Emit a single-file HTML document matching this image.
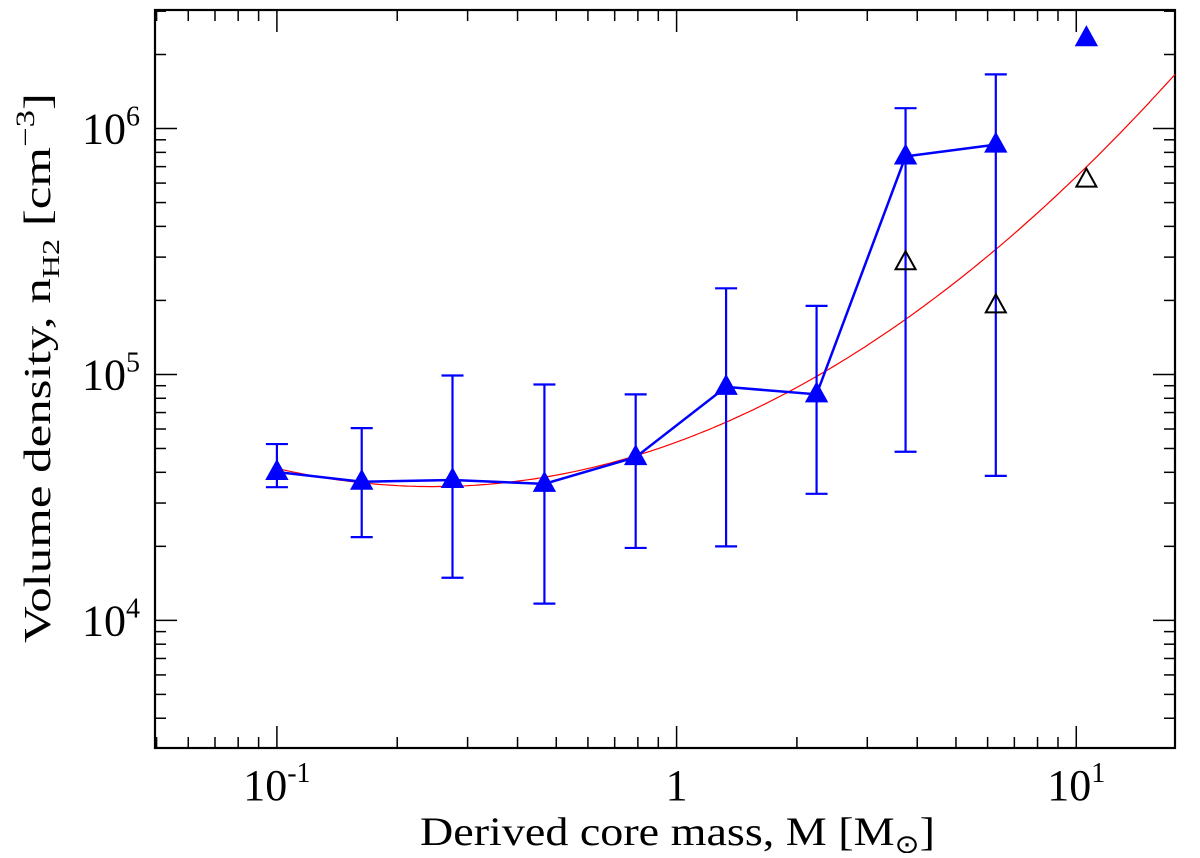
<!DOCTYPE html>
<html><head><meta charset="utf-8"><style>
body{margin:0;background:#fff}
svg text{font-family:"Liberation Serif",serif;fill:#000}
</style></head><body>
<svg id="c" width="1200" height="853" xmlns="http://www.w3.org/2000/svg"></svg>
<script>
const masses=[0.1,0.163,0.275,0.467,0.79,1.33,2.24,3.74,6.29];
const density=[4.01e4,3.66e4,3.72e4,3.59e4,4.61e4,8.9e4,8.3e4,7.7e5,8.6e5];
const errHigh=[5.21e4,6.05e4,9.9e4,9.1e4,8.3e4,2.24e5,1.9e5,1.21e6,1.66e6];
const errLow=[3.48e4,2.18e4,1.49e4,1.17e4,1.97e4,2.0e4,3.27e4,4.85e4,3.87e4];
const extraMass=[10.6];
const extraDensity=[2.33e6];
const openMass=[3.74,6.29,10.6];
const openDensity=[2.86e5,1.91e5,6.2e5];
const fitCoef=[4.725,0.593,0.486];
const xTickVals=[0.1,1,10];
const yTickVals=[1e4,1e5,1e6];

const L=155,R=1175,T=10,B=748;
const x0=-1.305,x1=1.247,y0=3.481,y1=6.482;
const sx=v=>L+(Math.log10(v)-x0)/(x1-x0)*(R-L);
const sy=v=>B-(Math.log10(v)-y0)/(y1-y0)*(B-T);
const svg=document.getElementById('c');
const NS='http://www.w3.org/2000/svg';
function mk(tag,attrs,parent){const e=document.createElementNS(NS,tag);for(const k in attrs)e.setAttribute(k,attrs[k]);(parent||svg).appendChild(e);return e;}

const frame=mk('rect',{x:L,y:T,width:R-L,height:B-T,fill:'none',stroke:'#000','stroke-width':2.2});



for(let d=-2;d<=1;d++)for(let m=1;m<10;m++){const v=m*Math.pow(10,d);const lv=Math.log10(v);if(lv<x0||lv>x1)continue;const x=sx(v);const len=m===1?22:11;
const t1=mk('line',{x1:x,x2:x,y1:B,y2:B-len,stroke:'#000','stroke-width':1.5});
const t2=mk('line',{x1:x,x2:x,y1:T,y2:T+len,stroke:'#000','stroke-width':1.5});}
for(let d=3;d<=6;d++)for(let m=1;m<10;m++){const v=m*Math.pow(10,d);const lv=Math.log10(v);if(lv<y0||lv>y1)continue;const y=sy(v);const len=m===1?22:11;
const t1=mk('line',{x1:L,x2:L+len,y1:y,y2:y,stroke:'#000','stroke-width':1.5});
const t2=mk('line',{x1:R,x2:R-len,y1:y,y2:y,stroke:'#000','stroke-width':1.5});}

xTickVals.forEach(v=>{const e=Math.round(Math.log10(v));const t=mk('text',{x:sx(v),y:800,'text-anchor':'middle','font-size':44});

if(e===0)t.textContent='1';else{t.innerHTML='10<tspan dy="-18" font-size="28">'+e+'</tspan>';}});
yTickVals.forEach(v=>{const e=Math.round(Math.log10(v));const t=mk('text',{x:140,y:sy(v)+15,'text-anchor':'end','font-size':44});

t.innerHTML='10<tspan dy="-18" font-size="28">'+e+'</tspan>';});

const xt=mk('text',{x:420,y:845,'font-size':40,textLength:515,lengthAdjust:'spacingAndGlyphs'});

xt.innerHTML='Derived core mass, M [M<tspan dy="8" font-size="26">⊙</tspan><tspan dy="-8">]</tspan>';
const yt=mk('text',{x:0,y:0,'font-size':38,textLength:550,lengthAdjust:'spacingAndGlyphs',transform:'translate(50,643) rotate(-90)'});

yt.innerHTML='Volume density, n<tspan dy="9" font-size="24">H2</tspan><tspan dy="-9"> [cm</tspan><tspan dy="-16" font-size="26">−3</tspan><tspan dy="16">]</tspan>';

let pts=[];for(let i=0;i<=200;i++){const u=-1+i/200*(x1+1);const lv=fitCoef[0]+fitCoef[1]*u+fitCoef[2]*u*u;pts.push(sx(Math.pow(10,u)).toFixed(1)+','+sy(Math.pow(10,lv)).toFixed(1));}
const fit=mk('polyline',{points:pts.join(' '),fill:'none',stroke:'#f00','stroke-width':1.2});


masses.forEach((m,i)=>{const x=sx(m);const g=mk('g',{stroke:'#00f','stroke-width':2.2});

mk('line',{x1:x,x2:x,y1:sy(errHigh[i]),y2:sy(errLow[i])},g);
mk('line',{x1:x-11,x2:x+11,y1:sy(errHigh[i]),y2:sy(errHigh[i])},g);
mk('line',{x1:x-11,x2:x+11,y1:sy(errLow[i]),y2:sy(errLow[i])},g);});

const ln=mk('polyline',{points:masses.map((m,i)=>sx(m)+','+sy(density[i])).join(' '),fill:'none',stroke:'#00f','stroke-width':2.5});


function tri(x,y,fill,stroke){return mk('polygon',{points:`${x},${y-11} ${x-10},${y+7} ${x+10},${y+7}`,fill:fill,stroke:stroke,'stroke-width':2});}
masses.forEach((m,i)=>{const t=tri(sx(m),sy(density[i]),'#00f','#00f');});
extraMass.forEach((m,i)=>{const t=tri(sx(m),sy(extraDensity[i]),'#00f','#00f');});
openMass.forEach((m,i)=>{const t=tri(sx(m),sy(openDensity[i]),'none','#000');});
</script>
</body></html>
